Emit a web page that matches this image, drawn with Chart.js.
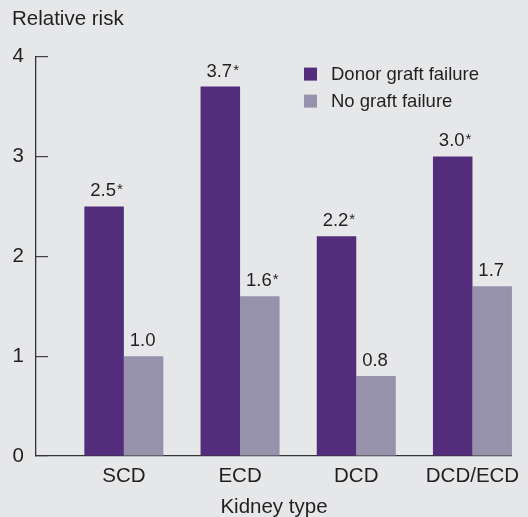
<!DOCTYPE html>
<html>
<head>
<meta charset="utf-8">
<script src="https://cdn.jsdelivr.net/npm/chart.js@4/dist/chart.umd.min.js"></script>
<style>
  html, body { margin: 0; padding: 0; background: #e6e7e9; }
  #wrap { width: 528px; height: 517px; }
</style>
</head>
<body>
<div id="wrap"><canvas id="myChart" width="528" height="517"></canvas></div>
<script>
// kidney types on the x axis
const kidneyTypes = ['SCD', 'ECD', 'DCD', 'DCD/ECD'];

// relative risk per kidney type
const donorFailure = [2.5, 3.7, 2.2, 3.0];
const noFailure = [1.0, 1.6, 0.8, 1.7];

// which values carry a significance star
const donorStar = [true, true, true, true];
const noStar = [false, true, false, false];

const yTicks = [0, 1, 2, 3, 4];

const FONT = "'Liberation Sans', Arial, Helvetica, sans-serif";
const TEXT = '#231f20';
const AXIS = '#333333';
const PURPLE = '#532d7b';
const GREY = '#9792ac';

const stars = [donorStar, noStar];

// value labels above every bar, with a small star when significant
const valueLabels = {
    id: 'valueLabels',
    afterDatasetsDraw(chart) {
        const ctx = chart.ctx;
        ctx.save();
        ctx.fillStyle = TEXT;
        ctx.textBaseline = 'alphabetic';
        chart.data.datasets.forEach((ds, di) => {
            const meta = chart.getDatasetMeta(di);
            meta.data.forEach((bar, i) => {
                const txt = ds.data[i].y.toFixed(1);
                const y = bar.y - 10;
                ctx.font = '18.5px ' + FONT;
                ctx.textAlign = 'center';
                ctx.fillText(txt, bar.x - 1, y);
                if (stars[di][i]) {
                    const w = ctx.measureText(txt).width;
                    ctx.font = '15px ' + FONT;
                    ctx.textAlign = 'left';
                    ctx.fillText('*', bar.x - 1 + w / 2 + 1, y - 2);
                }
            });
        });
        ctx.restore();
    }
};

// legend block inside the plot area, top right
const innerLegend = {
    id: 'innerLegend',
    afterDraw(chart) {
        const ctx = chart.ctx;
        const area = chart.chartArea;
        const x = area.left + 268;
        let y = area.top + 11;
        ctx.save();
        ctx.font = '18.5px ' + FONT;
        ctx.textAlign = 'left';
        ctx.textBaseline = 'middle';
        chart.data.datasets.forEach((ds) => {
            ctx.fillStyle = ds.backgroundColor;
            ctx.fillRect(x, y, 13, 13);
            ctx.fillStyle = TEXT;
            ctx.fillText(ds.label, x + 27, y + 7);
            y += 27;
        });
        ctx.restore();
    }
};

let config = {
    type: 'bar',
    data: {
        datasets: [{
            label: 'Donor graft failure',
            data: donorFailure.map((v, i) => ({ x: i, y: v })),
            backgroundColor: PURPLE,
            borderWidth: 0
        }, {
            label: 'No graft failure',
            data: noFailure.map((v, i) => ({ x: i, y: v })),
            backgroundColor: GREY,
            borderWidth: 0
        }]
    },
    options: {
        responsive: false,
        animation: false,
        layout: { padding: { left: 12, right: 10, top: 6, bottom: 0 } },
        datasets: {
            bar: { barPercentage: 1, categoryPercentage: 0.68 }
        },
        plugins: {
            legend: { display: false },
            tooltip: { enabled: false },
            title: {
                display: true,
                text: 'Relative risk',
                align: 'start',
                color: TEXT,
                font: { family: FONT, size: 20.5, weight: 'normal' },
                padding: { top: 1, bottom: 25 }
            }
        },
        scales: {
            x: {
                type: 'linear',
                offset: false,
                min: -0.756,
                max: 3.34,
                afterBuildTicks: (axis) => {
                    axis.ticks = kidneyTypes.map((k, i) => ({ value: i }));
                },
                // labels hang from the top, the title sits on the bottom edge
                afterFit: (axis) => {
                    axis.height = 61;
                },
                grid: { display: false, drawTicks: false, tickLength: 0 },
                border: { display: true, color: AXIS, width: 1.3 },
                ticks: {
                    autoSkip: false,
                    maxRotation: 0,
                    padding: 8,
                    color: TEXT,
                    font: { family: FONT, size: 20.5 },
                    callback: (value) => kidneyTypes[value]
                },
                title: {
                    display: true,
                    text: 'Kidney type',
                    color: TEXT,
                    font: { family: FONT, size: 20.5 },
                    padding: { top: 5, bottom: -3 }
                }
            },
            y: {
                min: 0,
                max: 4,
                afterBuildTicks: (axis) => {
                    axis.ticks = yTicks.map((v) => ({ value: v }));
                },
                // tick marks point into the plot, so the axis keeps a fixed width
                afterFit: (axis) => {
                    axis.width = 24;
                },
                grid: {
                    drawOnChartArea: false,
                    drawTicks: true,
                    tickLength: -12,
                    color: '#444444',
                    lineWidth: 1.2
                },
                border: { display: true, color: AXIS, width: 1.3 },
                ticks: {
                    padding: 24,
                    color: TEXT,
                    font: { family: FONT, size: 20.5 }
                }
            }
        }
    },
    plugins: [valueLabels, innerLegend]
};

let ctx = document.getElementById('myChart').getContext('2d');
var myChart = new Chart(ctx, config);
</script>
</body>
</html>
